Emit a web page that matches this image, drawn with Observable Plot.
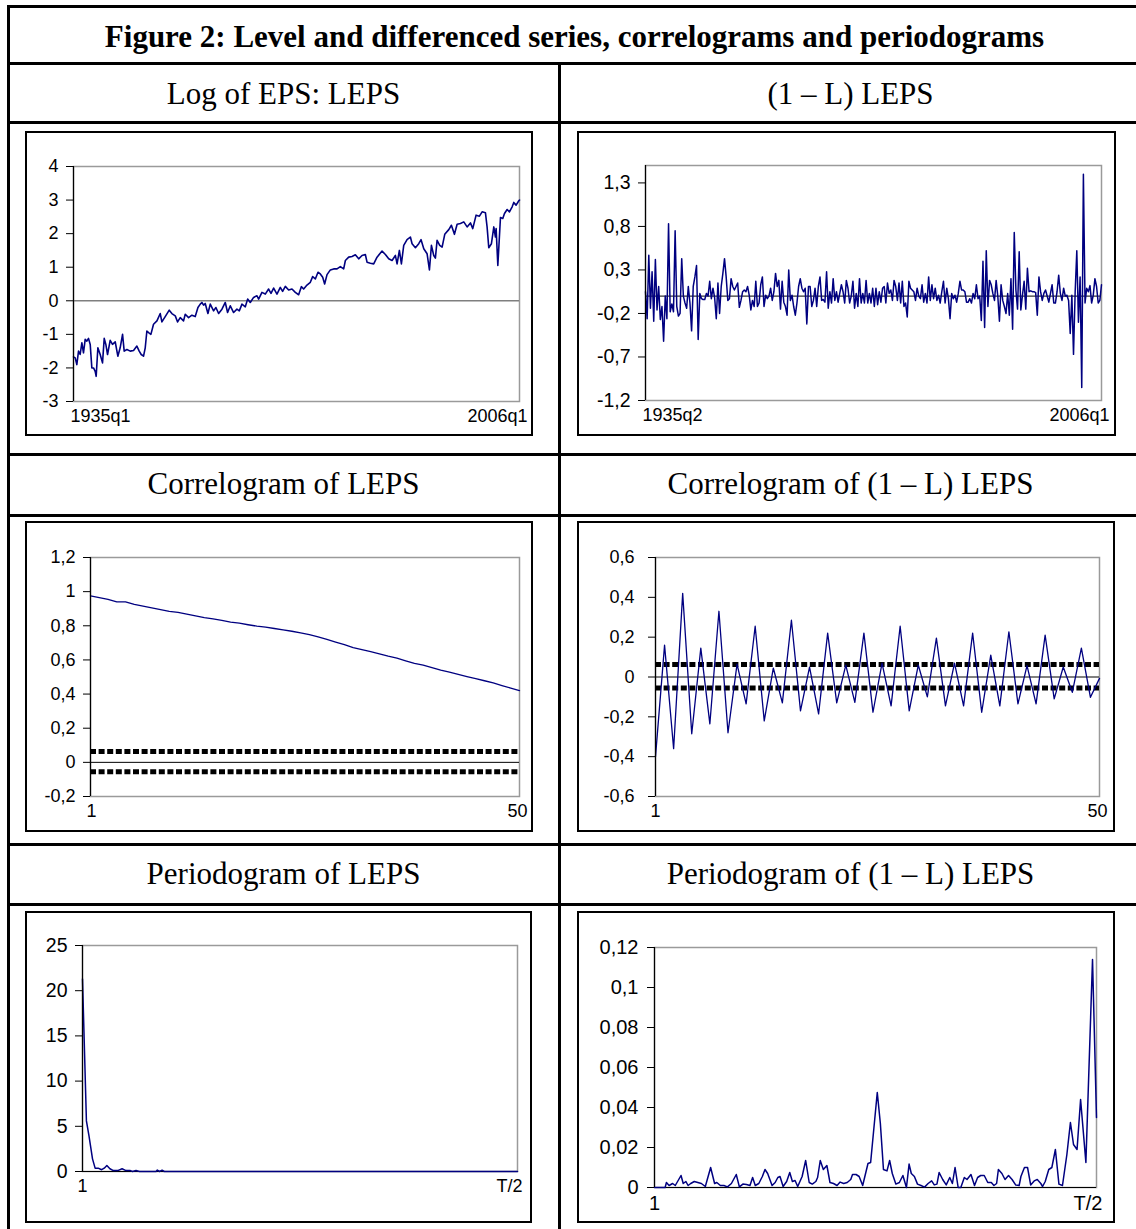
<!DOCTYPE html>
<html>
<head>
<meta charset="utf-8">
<script src="https://cdn.jsdelivr.net/npm/d3@7"></script>
<script src="https://cdn.jsdelivr.net/npm/@observablehq/plot@0.6"></script>
<style>
  html, body { margin: 0; padding: 0; background: #fff; }
  body { width: 1136px; height: 1229px; overflow: hidden; position: relative; }
  .hl { position: absolute; left: 7px; width: 1140px; height: 3px; background: #000; }
  .vl { position: absolute; width: 3px; background: #000; }
  .txt { position: absolute; text-align: center; font-family: "Liberation Serif", "Times New Roman", serif; color: #000; white-space: nowrap; line-height: 1; }
  .title { font-size: 31px; font-weight: bold; }
  .head { font-size: 31px; }
  .frame { position: absolute; border: 2px solid #000; box-sizing: border-box; background: #fff; }
  svg.plotsvg { position: absolute; }
</style>
</head>
<body>
<div class="hl" style="top:5px"></div>
<div class="hl" style="top:62px"></div>
<div class="hl" style="top:121px"></div>
<div class="hl" style="top:453px"></div>
<div class="hl" style="top:514px"></div>
<div class="hl" style="top:843px"></div>
<div class="hl" style="top:903px"></div>
<div class="vl" style="left:7px; top:5px; height:1230px"></div>
<div class="vl" style="left:558px; top:62px; height:1170px"></div>

<div class="txt title" style="left:8px; width:1133px; top:21px">Figure 2: Level and differenced series, correlograms and periodograms</div>
<div class="txt head" style="left:8px; width:551px; top:78px">Log of EPS: LEPS</div>
<div class="txt head" style="left:560px; width:581px; top:78px">(1 – L) LEPS</div>
<div class="txt head" style="left:8px; width:551px; top:468px">Correlogram of LEPS</div>
<div class="txt head" style="left:560px; width:581px; top:468px">Correlogram of (1 – L) LEPS</div>
<div class="txt head" style="left:8px; width:551px; top:858px">Periodogram of LEPS</div>
<div class="txt head" style="left:560px; width:581px; top:858px">Periodogram of (1 – L) LEPS</div>

<script>
// ---------- DATA ----------
// Panel 1: log of EPS (LEPS), decimal year and value
const lepsYear = [1935.00,1935.27,1935.53,1935.80,1936.06,1936.33,1936.59,1936.86,1937.12,1937.39,1937.66,1937.92,1938.19,1938.45,1938.61,1938.88,1939.25,1939.62,1939.89,1940.15,1940.42,1940.84,1941.21,1941.64,1942.06,1942.43,1942.81,1943.07,1943.50,1944.03,1944.56,1945.09,1945.46,1945.78,1946.15,1946.42,1946.68,1946.95,1947.32,1947.74,1948.28,1948.81,1949.07,1949.60,1950.24,1950.66,1951.20,1951.57,1951.99,1952.52,1952.79,1953.32,1953.85,1954.38,1954.81,1955.18,1955.44,1955.71,1955.97,1956.40,1956.77,1957.30,1957.67,1958.10,1958.63,1959.16,1959.53,1959.96,1960.49,1961.02,1961.39,1961.82,1962.35,1962.72,1963.14,1963.67,1964.21,1964.47,1965.00,1965.53,1966.06,1966.44,1966.86,1967.39,1967.92,1968.29,1968.72,1969.25,1969.78,1970.31,1970.84,1971.27,1971.64,1972.17,1972.70,1973.07,1973.50,1973.92,1974.29,1974.67,1974.98,1975.36,1975.89,1976.42,1976.95,1977.48,1978.01,1978.28,1978.81,1979.34,1979.87,1980.40,1980.93,1981.46,1981.73,1982.26,1982.79,1983.32,1984.12,1984.65,1985.18,1985.71,1986.24,1986.51,1986.88,1987.20,1987.57,1988.10,1988.63,1988.90,1989.43,1989.96,1990.33,1990.76,1991.29,1991.66,1991.98,1992.35,1992.61,1992.88,1993.30,1993.68,1994.10,1994.74,1995.16,1995.64,1996.07,1996.60,1997.13,1997.66,1998.19,1998.56,1999.09,1999.62,2000.05,2000.58,2000.84,2001.11,2001.53,2001.91,2002.17,2002.28,2002.55,2002.97,2003.34,2003.61,2004.03,2004.40,2004.83,2005.09,2005.46,2005.89,2006.00];
const lepsValue = [-1.67,-1.70,-1.90,-1.50,-1.60,-1.25,-1.55,-1.15,-1.20,-1.12,-1.30,-2.00,-2.00,-2.10,-2.25,-1.40,-1.60,-1.85,-1.12,-1.30,-1.60,-1.18,-1.30,-1.22,-1.65,-1.40,-1.00,-1.50,-1.45,-1.50,-1.48,-1.35,-1.50,-1.60,-1.65,-1.40,-0.90,-0.95,-1.00,-0.70,-0.60,-0.38,-0.63,-0.47,-0.28,-0.38,-0.45,-0.63,-0.50,-0.60,-0.40,-0.50,-0.43,-0.47,-0.20,-0.10,-0.05,-0.13,-0.08,-0.38,-0.10,-0.30,-0.20,-0.38,-0.25,-0.05,-0.35,-0.15,-0.35,-0.25,-0.30,-0.10,-0.18,0.05,-0.05,0.10,0.15,0.05,0.25,0.20,0.35,0.22,0.38,0.20,0.40,0.28,0.43,0.32,0.35,0.25,0.18,0.42,0.35,0.47,0.55,0.72,0.65,0.85,0.80,0.70,0.50,0.78,0.92,0.95,0.95,1.02,0.95,1.20,1.30,1.32,1.37,1.25,1.35,1.38,1.15,1.12,1.10,1.30,1.48,1.38,1.25,1.20,1.35,1.10,1.50,1.10,1.65,1.82,1.90,1.70,1.58,1.70,1.82,1.55,1.40,0.92,1.65,1.35,1.27,1.80,1.65,1.60,1.98,2.12,2.25,1.98,2.28,2.30,2.35,2.20,2.32,2.15,2.55,2.52,2.65,2.62,2.20,1.58,1.70,2.20,1.90,2.15,1.05,2.48,2.45,2.60,2.72,2.65,2.80,2.93,2.85,2.98,3.00];
const p1Ticks = [-3, -2, -1, 0, 1, 2, 3, 4];
const p1Labels = ["1935q1", "2006q1"];

// Panel 2: (1 - L) LEPS, quarterly differences in time order
const dlepsValue = [0.05,-0.26,0.47,-0.14,0.28,-0.29,0.42,-0.16,0.11,-0.27,-0.12,-0.52,0,-0.26,0.83,-0.18,-0.09,-0.18,0.75,-0.12,-0.23,-0.2,0.43,0,-0.08,-0.14,0.11,-0.08,-0.4,0.11,0.22,0.35,-0.5,0.03,-0.03,-0.04,-0.04,0.03,0,0.17,-0.03,0.09,-0.02,-0.26,0.15,-0.2,0.11,0.26,0.43,0.22,-0.05,-0.03,0.2,0.11,0.07,0.11,0.15,-0.13,-0.05,0.05,0.07,0.05,0.11,0.01,-0.16,-0.05,-0.12,0.17,-0.12,-0.08,0.13,0.22,-0.12,0.01,-0.03,0,0.09,-0.05,0.05,0.26,0.11,0.18,-0.15,0.17,-0.07,-0.12,-0.22,0.3,-0.05,0.01,-0.12,-0.22,-0.08,0.11,0.2,0.09,0.05,0.09,-0.32,0.11,0.11,-0.12,-0.05,0.09,-0.12,0.11,0.22,-0.05,-0.04,-0.07,0.28,-0.14,0.05,-0.08,0.2,-0.05,0.05,-0.07,0.03,0.13,0.05,-0.08,0.18,0.09,-0.08,0,0.17,-0.14,0.03,-0.12,0.2,-0.08,0.03,-0.08,
  0.18,-0.08,0.03,-0.08,0.09,-0.12,0.09,-0.1,0.05,-0.07,0.09,0.11,-0.08,0.15,0.03,0.07,-0.05,0.18,0.11,-0.05,0.15,-0.08,0.17,-0.12,-0.08,-0.24,0.17,0.09,0.07,0.05,-0.05,0.09,0,-0.03,0.13,-0.07,0.03,-0.08,0.22,-0.05,0.13,-0.03,0.09,-0.05,0.01,-0.08,0.05,0.17,-0.08,0.09,-0.03,-0.26,0.03,-0.03,0.01,-0.07,0.03,0.17,0.07,0.07,0.05,-0.07,-0.07,-0.03,-0.08,0.03,-0.03,0.13,-0.03,0,-0.28,0.4,-0.36,0.52,-0.12,0.18,0.13,0.03,-0.05,0.18,0,-0.29,0.13,-0.05,-0.12,-0.2,0.03,-0.22,0.2,-0.38,0.73,0.07,-0.15,0.51,-0.16,0.01,0.17,-0.15,0.32,0.05,0.06,0.05,0.05,0.04,-0.22,0.22,0.05,-0.05,0.03,0.07,0,-0.07,0.03,0.13,-0.08,-0.08,0.05,0.24,0.03,-0.05,0.09,0,0.01,-0.05,-0.43,0.01,-0.67,0.05,0.52,-0.3,0.22,-1.05,1.4,-0.08,0.09,0.05,0.12,-0.08,0.01,0.2,0.11,-0.08,-0.05,0.13];
const p2Ticks = [-1.2, -0.7, -0.2, 0.3, 0.8, 1.3];
const p2Labels = ["1935q2", "2006q1"];

// Panel 3: autocorrelations of LEPS, lags 1..50
const acfLeps = [0.975,0.965,0.955,0.94,0.94,0.925,0.915,0.905,0.895,0.885,0.878,0.868,0.858,0.848,0.84,0.832,0.822,0.815,0.806,0.798,0.792,0.784,0.776,0.768,0.758,0.748,0.735,0.72,0.705,0.69,0.672,0.66,0.648,0.636,0.622,0.61,0.595,0.58,0.57,0.555,0.54,0.528,0.515,0.502,0.49,0.478,0.465,0.45,0.435,0.42];
// Panel 4: autocorrelations of (1 - L) LEPS, lags 1..50
const acfDleps = [-0.40,0.16,-0.36,0.42,-0.285,0.145,-0.235,0.33,-0.28,0.065,-0.135,0.255,-0.22,0.045,-0.13,0.285,-0.17,0.05,-0.185,0.22,-0.13,0.06,-0.127,0.22,-0.177,0.07,-0.145,0.255,-0.17,0.06,-0.10,0.195,-0.145,0.07,-0.145,0.22,-0.177,0.11,-0.145,0.227,-0.135,0.057,-0.135,0.21,-0.11,0.05,-0.077,0.145,-0.102,-0.007];
const bandUpper = 0.063;
const bandLower = -0.055;
const p3Ticks = [-0.2, 0, 0.2, 0.4, 0.6, 0.8, 1, 1.2];
const p4Ticks = [-0.6, -0.4, -0.2, 0, 0.2, 0.4, 0.6];
const lagLabels = ["1", "50"];

// Panel 5: periodogram of LEPS (frequency as fraction of T/2)
const perLepsFreq = [0,0.009,0.015,0.023,0.029,0.036,0.044,0.05,0.056,0.063,0.071,0.081,0.091,0.1,0.11,0.115,0.123,0.131,0.169,0.172,0.177,0.183,0.188,1.0];
const perLepsValue = [21.3,5.6,3.9,1.4,0.37,0.37,0.2,0.37,0.66,0.3,0.1,0.1,0.3,0.1,0.1,0,0.1,0,0,0.15,0,0.15,0,0];
const p5Ticks = [0, 5, 10, 15, 20, 25];
// Panel 6: periodogram of (1 - L) LEPS
const perDlepsFreq = [0,0.024,0.027,0.033,0.041,0.047,0.060,0.065,0.071,0.076,0.082,0.090,0.098,0.106,0.115,0.127,0.136,0.141,0.149,0.157,0.165,0.174,0.185,0.192,0.200,0.208,0.216,0.222,0.228,0.236,0.244,0.250,0.256,0.266,0.273,0.279,0.284,0.291,0.299,0.306,0.312,0.318,0.324,0.334,0.342,0.350,0.357,0.365,0.369,0.375,0.382,0.390,0.397,0.405,0.413,0.420,0.428,0.436,0.444,0.448,0.456,0.463,0.471,0.483,0.489,0.504,0.511,0.518,0.526,0.532,0.538,0.546,0.554,0.562,0.570,0.576,0.581,0.588,0.595,0.603,0.611,0.619,0.627,0.633,0.639,0.644,0.652,0.660,0.668,0.674,0.680,0.687,0.693,0.701,0.707,0.716,0.724,0.731,0.738,0.746,0.754,0.762,0.768,0.774,0.778,0.786,0.793,0.801,0.809,0.817,0.825,0.829,0.837,0.844,0.851,0.859,0.866,0.874,0.878,0.884,0.892,0.899,0.907,0.915,0.923,0.933,0.941,0.948,0.956,0.964,0.976,0.991,1.0];
const perDlepsValue = [0,0,0.0025,0.001,0.002,0.001,0.006,0.002,0.003,0.001,0.002,0.003,0.0025,0.002,0.0005,0.01,0.002,0.0025,0.001,0.001,0.0003,0.002,0.0065,0.0003,0.0017,0.0015,0.001,0.005,0.001,0.002,0.0055,0.009,0.007,0.001,0.0025,0.005,0.0055,0.0005,0.003,0.0075,0.003,0.0035,0.0005,0.0055,0.0135,0.0025,0.0017,0.003,0.005,0.0135,0.009,0.011,0.0025,0.002,0.001,0.0027,0.002,0.0025,0.004,0.0065,0.0065,0.0055,0.001,0.012,0.0125,0.0475,0.032,0.009,0.0083,0.0135,0.007,0.0017,0.0025,0.006,0,0.0117,0.007,0.0055,0.0017,0.001,0.0002,0.002,0.0033,0.0013,0.0017,0.0075,0.004,0.0013,0.005,0.002,0.01,0,0,0.005,0.004,0.0065,0.001,0.005,0.006,0.006,0.0025,0.0025,0.001,0.002,0.009,0.007,0.004,0.006,0.004,0.0013,0.001,0.0055,0.01,0.01,0.0013,0.0033,0.004,0.002,0.0005,0.003,0.009,0.010,0.019,0.0017,0.001,0.0165,0.0325,0.0215,0.019,0.044,0.0125,0.114,0.035];
const p6Ticks = [0, 0.02, 0.04, 0.06, 0.08, 0.1, 0.12];
const freqLabels = ["1", "T/2"];

// ---------- DRAWING ----------
const NAVY = "#000080";
const fmt = d => (+(+d).toFixed(4)).toString().replace(".", ",");

function panel({frame, plot, x, y, yTicks, tickPad, yFont = 18, xFont = 18, xLab, marks}) {
  const [fx, fy, fw, fh] = frame;
  const left = fx + 2, top = fy + 2, W = fw - 4, H = fh - 4;
  const [pl, pt, pr, pb] = plot;
  const fr = document.createElement("div");
  fr.className = "frame";
  Object.assign(fr.style, {left: fx + "px", top: fy + "px", width: fw + "px", height: fh + "px"});
  document.body.append(fr);
  const svg = Plot.plot({
    width: W, height: H,
    marginLeft: pl - left, marginTop: pt - top,
    marginRight: left + W - pr, marginBottom: top + H - pb,
    x: {...x, axis: null, label: null}, y: {...y, axis: null, label: null},
    style: {fontFamily: "'Liberation Sans', Arial, sans-serif", fontSize: "18px", background: "transparent", overflow: "visible", color: "#000"},
    marks: [
      Plot.frame({stroke: "#9a9a9a", strokeWidth: 1.5}),
      ...marks,
      Plot.ruleX([x.domain[0]], {stroke: "#000", strokeWidth: 1.2}),
      Plot.axisY({ticks: yTicks, tickFormat: fmt, tickSize: 7, tickPadding: tickPad, fontSize: yFont, stroke: "#000", label: null}),
      Plot.axisX({ticks: [x.domain[0]], tickFormat: () => xLab.labels[0], tickSize: 0, tickPadding: 8, fontSize: xFont, textAnchor: xLab.anchor[0], dx: xLab.dx[0], label: null}),
      Plot.axisX({ticks: [x.domain[1]], tickFormat: () => xLab.labels[1], tickSize: 0, tickPadding: 8, fontSize: xFont, textAnchor: xLab.anchor[1], dx: xLab.dx[1], label: null})
    ]
  });
  svg.classList.add("plotsvg");
  svg.style.left = left + "px";
  svg.style.top = top + "px";
  document.body.append(svg);
}

// Panel 1
const p1 = lepsYear.map((t, i) => ({t, v: lepsValue[i]}));
panel({
  frame: [25, 131, 508, 305], plot: [73, 166, 519, 401],
  x: {domain: [1935, 2006]}, y: {domain: [-3, 4]}, yTicks: p1Ticks, tickPad: 8,
  xLab: {labels: p1Labels, anchor: ["start", "end"], dx: [-3, 8]},
  marks: [
    Plot.ruleY([0], {stroke: "#7f7f7f", strokeWidth: 1.6}),
    Plot.line(p1, {x: "t", y: "v", stroke: NAVY, strokeWidth: 1.6})
  ]
});

// Panel 2
const p2 = dlepsValue.map((v, i) => ({i, v}));
panel({
  frame: [577, 131, 539, 305], plot: [645, 165, 1101, 400],
  x: {domain: [0, dlepsValue.length - 1]}, y: {domain: [-1.2, 1.5]}, yTicks: p2Ticks, tickPad: 8, yFont: 19.5,
  xLab: {labels: p2Labels, anchor: ["start", "end"], dx: [-3, 8]},
  marks: [
    Plot.ruleY([0], {stroke: "#333", strokeWidth: 1.2}),
    Plot.line(p2, {x: "i", y: "v", stroke: NAVY, strokeWidth: 1.5})
  ]
});

// Panel 3
const p3 = acfLeps.map((v, i) => ({lag: i + 1, v}));
panel({
  frame: [25, 521, 508, 311], plot: [90, 557, 519, 796],
  x: {domain: [1, 50]}, y: {domain: [-0.2, 1.2]}, yTicks: p3Ticks, tickPad: 8,
  xLab: {labels: lagLabels, anchor: ["middle", "middle"], dx: [1, -2]},
  marks: [
    Plot.ruleY([0], {stroke: "#000", strokeWidth: 1}),
    Plot.ruleY([bandUpper, bandLower], {stroke: "#000", strokeWidth: 5, strokeDasharray: "6,2.6"}),
    Plot.line(p3, {x: "lag", y: "v", stroke: NAVY, strokeWidth: 1.3})
  ]
});

// Panel 4
const p4 = acfDleps.map((v, i) => ({lag: i + 1, v}));
panel({
  frame: [577, 521, 538, 311], plot: [655, 557, 1099, 796],
  x: {domain: [1, 50]}, y: {domain: [-0.6, 0.6]}, yTicks: p4Ticks, tickPad: 14,
  xLab: {labels: lagLabels, anchor: ["middle", "middle"], dx: [0, -2]},
  marks: [
    Plot.ruleY([0], {stroke: "#000", strokeWidth: 1}),
    Plot.ruleY([bandUpper, bandLower], {stroke: "#000", strokeWidth: 5, strokeDasharray: "6,2.6"}),
    Plot.line(p4, {x: "lag", y: "v", stroke: NAVY, strokeWidth: 1.3})
  ]
});

// Panel 5
const p5 = perLepsFreq.map((f, i) => ({f, v: perLepsValue[i]}));
panel({
  frame: [25, 911, 507, 312], plot: [82, 945, 517, 1171],
  x: {domain: [0, 1]}, y: {domain: [0, 25]}, yTicks: p5Ticks, tickPad: 8, yFont: 19.5,
  xLab: {labels: freqLabels, anchor: ["middle", "end"], dx: [0, 5]},
  marks: [
    Plot.ruleY([0], {stroke: "#000", strokeWidth: 1}),
    Plot.line(p5, {x: "f", y: "v", stroke: NAVY, strokeWidth: 1.5})
  ]
});

// Panel 6
const p6 = perDlepsFreq.map((f, i) => ({f, v: perDlepsValue[i]}));
panel({
  frame: [577, 911, 538, 312], plot: [654, 947, 1096, 1187],
  x: {domain: [0, 1]}, y: {domain: [0, 0.12]}, yTicks: p6Ticks, tickPad: 9, yFont: 20, xFont: 20,
  xLab: {labels: freqLabels, anchor: ["middle", "end"], dx: [0, 6]},
  marks: [
    Plot.ruleY([0], {stroke: "#000", strokeWidth: 1}),
    Plot.line(p6, {x: "f", y: "v", stroke: NAVY, strokeWidth: 1.5})
  ]
});
</script>
</body>
</html>
